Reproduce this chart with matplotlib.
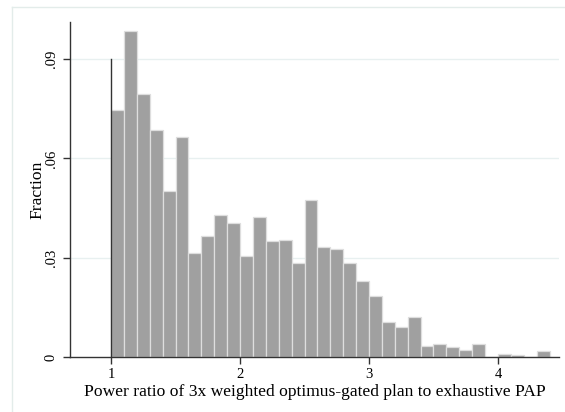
import matplotlib
matplotlib.use("Agg")
import matplotlib.pyplot as plt
from matplotlib.lines import Line2D
import numpy as np

# Histogram bins (width 0.1 from 1.0 to 4.4) and fractions
bin_edges = [round(1.0 + 0.1 * i, 1) for i in range(35)]
fractions = [0.0745, 0.0985, 0.0795, 0.0687, 0.0500, 0.0664,
             0.0313, 0.0365, 0.0430, 0.0404, 0.0304, 0.0422,
             0.0351, 0.0352, 0.0285, 0.0473, 0.0331, 0.0327,
             0.0285, 0.0229, 0.0185, 0.0105, 0.0092, 0.0120,
             0.0032, 0.0039, 0.0029, 0.0020, 0.0039, 0.0000,
             0.0010, 0.0005, 0.0000, 0.0017]
x_ticks = [1, 2, 3, 4]
x_tick_labels = ["1", "2", "3", "4"]
y_ticks = [0, 0.03, 0.06, 0.09]
y_tick_labels = ["0", ".03", ".06", ".09"]
ref_x = 1.0
ref_top = 0.09
x_label = "Power ratio of 3x weighted optimus-gated plan to exhaustive PAP"
y_label = "Fraction"

plt.rcParams['font.family'] = ['Liberation Serif', 'DejaVu Serif']

fig = plt.figure(figsize=(5.65, 4.12), dpi=100)
fig.patch.set_facecolor('white')

# outer light frame (graph region)
frame_col = '#e3ecea'
fig.add_artist(Line2D([12/565, 12/565], [0, 1 - 7/412], transform=fig.transFigure,
                      color=frame_col, lw=1.0))
fig.add_artist(Line2D([12/565, 1], [1 - 7/412, 1 - 7/412], transform=fig.transFigure,
                      color=frame_col, lw=1.0))

ax = fig.add_axes([70/565, 1 - 357/412, (559 - 70)/565, (357 - 22)/412])

lefts = np.array(bin_edges[:-1])
widths = np.diff(bin_edges)
ax.bar(lefts, fractions, width=widths, align='edge', color='#a0a0a0',
       edgecolor='#dedede', linewidth=0.9, zorder=2)

ax.plot([ref_x, ref_x], [0, ref_top], color='#333333', lw=1.0, zorder=3)

ax.set_xlim(0.682, 4.473)
ax.set_ylim(0, 0.1012)

for y in y_ticks[1:]:
    ax.axhline(y, color='#e8f0f0', lw=1.0, zorder=1)

ax.set_xticks(x_ticks)
ax.set_xticklabels(x_tick_labels, fontsize=10.5)
ax.set_yticks(y_ticks)
ax.set_yticklabels(y_tick_labels, fontsize=10.5, rotation=90, va='center')

ax.tick_params(axis='both', direction='out', length=5, width=1.0, color='#333333')
ax.tick_params(axis='x', pad=3)
ax.tick_params(axis='y', pad=4)
for s in ['top', 'right']:
    ax.spines[s].set_visible(False)
for s in ['left', 'bottom']:
    ax.spines[s].set_color('#333333')
    ax.spines[s].set_linewidth(1.0)

ax.set_xlabel(x_label, fontsize=12.6, labelpad=2)
ax.set_ylabel(y_label, fontsize=12.6, va='center')
ax.yaxis.set_label_coords((37 - 70) / 489, 0.5)

fig.savefig('out.png', dpi=100)
